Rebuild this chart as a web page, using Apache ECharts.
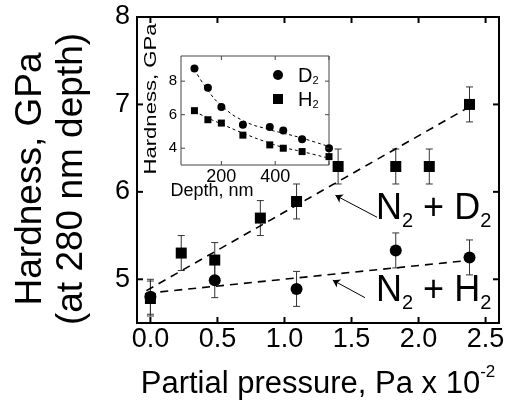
<!DOCTYPE html>
<html>
<head>
<meta charset="utf-8">
<script src="https://cdn.jsdelivr.net/npm/echarts@6/dist/echarts.min.js"></script>
<style>
html, body { margin: 0; padding: 0; background: #fff; }
#main { width: 515px; height: 412px; }
</style>
</head>
<body>
<div id="main"></div>
<script>
// main panel: hardness at 280 nm vs partial pressure
const pressD = [0.0, 0.23, 0.48, 0.82, 1.09, 1.40, 1.83, 2.08, 2.38];
const hardD = [4.78, 5.30, 5.22, 5.70, 5.89, 6.29, 6.29, 6.29, 7.00];
const errD = [0.2, 0.2, 0.2, 0.2, 0.2, 0.2, 0.2, 0.2, 0.2];
const pressH = [0.0, 0.48, 1.09, 1.83, 2.38];
const hardH = [4.80, 4.99, 4.89, 5.33, 5.25];
const errH = [0.2, 0.2, 0.2, 0.2, 0.2];
const fitD = [[-0.03, 4.87], [2.40, 6.99]];
const fitH = [[-0.03, 4.84], [2.40, 5.22]];
const arrowD = [[1.69, 5.71], [1.38, 5.96]];
const arrowH = [[1.60, 4.79], [1.36, 4.99]];
const xTicks = [0, 0.5, 1, 1.5, 2, 2.5];
const yTicks = [5, 6, 7, 8];

// inset: hardness vs depth
const depth = [100, 150, 200, 280, 380, 430, 500, 600];
const insetD = [8.76, 7.60, 6.46, 5.40, 5.26, 5.06, 4.54, 4.00];
const insetH = [6.24, 5.70, 5.50, 4.78, 4.20, 4.00, 3.80, 3.50];
const insetFitD = [[100, 8.7], [150, 7.45], [200, 6.55], [280, 5.65], [380, 5.1], [430, 4.9], [500, 4.6], [600, 4.1]];
const insetFitH = [[100, 6.2], [150, 5.8], [200, 5.45], [280, 4.9], [380, 4.3], [430, 4.05], [500, 3.8], [600, 3.4]];
const depthTicks = [200, 400];
const depthTicksAll = [200, 400, 600];
const insetYTicks = [4, 6, 8];

const FONT = 'Arial, "Liberation Sans", sans-serif';

let chart = echarts.init(document.getElementById('main'));

let errorBar = (params, api) => {
    let x = api.value(0);
    let top = api.coord([x, api.value(2)]);
    let bot = api.coord([x, api.value(1)]);
    let w = 3.5;
    let st = {stroke: '#333', lineWidth: 1};
    return {
        type: 'group',
        children: [
            {type: 'line', shape: {x1: top[0], y1: top[1], x2: bot[0], y2: bot[1]}, style: st},
            {type: 'line', shape: {x1: top[0] - w, y1: top[1], x2: top[0] + w, y2: top[1]}, style: st},
            {type: 'line', shape: {x1: bot[0] - w, y1: bot[1], x2: bot[0] + w, y2: bot[1]}, style: st}
        ]
    };
};

// inward ticks on both opposite frame sides, placed through the axis scale
let tickMarks = (dir, len, width, color) => (params, api) => {
    let cs = params.coordSys;
    let p = api.coord([api.value(0), api.value(1)]);
    let st = {stroke: color, lineWidth: width};
    if (dir === 'x') {
        let b = cs.y + cs.height, t = cs.y;
        return {type: 'group', children: [
            {type: 'line', shape: {x1: p[0], y1: b, x2: p[0], y2: b - len}, style: st},
            {type: 'line', shape: {x1: p[0], y1: t, x2: p[0], y2: t + len}, style: st}
        ]};
    }
    let l = cs.x, r = cs.x + cs.width;
    return {type: 'group', children: [
        {type: 'line', shape: {x1: l, y1: p[1], x2: l + len, y2: p[1]}, style: st},
        {type: 'line', shape: {x1: r, y1: p[1], x2: r - len, y2: p[1]}, style: st}
    ]};
};

let subText = (top, letter) => ({
    type: 'text', left: 376, top: top, z: 30,
    style: {
        text: `{m|N}{s|2}{m| + ${letter}}{s|2}`,
        rich: {
            m: {fontSize: 36, lineHeight: 40, padding: [0, 0, 10, 0], verticalAlign: 'top', fontFamily: FONT, fill: '#000'},
            s: {fontSize: 20, lineHeight: 20, verticalAlign: 'bottom', fontFamily: FONT, fill: '#000'}
        }
    }
});

let solid = {color: '#000', opacity: 1};

let option = {
    animation: false,
    backgroundColor: '#fff',
    textStyle: {fontFamily: FONT},
    grid: [
        {left: 137, right: 16, top: 17, bottom: 89, show: true, borderColor: '#000', borderWidth: 2},
        {left: 181, right: 186, top: 56, bottom: 247, show: true, backgroundColor: '#fff', borderColor: '#444', borderWidth: 1, z: 5}
    ],
    legend: {
        data: ['D2', 'H2'],
        orient: 'vertical',
        left: 268,
        top: 61,
        itemWidth: 10,
        itemHeight: 10,
        itemGap: 4,
        z: 20,
        itemStyle: {opacity: 1},
        formatter: (name) => `{m|${name[0]}}{s|2}`,
        textStyle: {
            color: '#000',
            padding: [0, 0, 0, 10],
            rich: {
                m: {fontSize: 20, lineHeight: 22, verticalAlign: 'bottom', fontFamily: FONT},
                s: {fontSize: 11, lineHeight: 11, verticalAlign: 'bottom', fontFamily: FONT}
            }
        }
    },
    xAxis: [
        {
            gridIndex: 0, type: 'value', min: -0.1, max: 2.6,
            name: '{b|Partial pressure, Pa x 10}{sup|-2}',
            nameLocation: 'middle', nameGap: 41,
            nameTextStyle: {
                color: '#000', fontFamily: FONT,
                rich: {
                    b: {fontSize: 31, lineHeight: 36, verticalAlign: 'bottom', fontFamily: FONT},
                    sup: {fontSize: 17, lineHeight: 17, verticalAlign: 'top', fontFamily: FONT}
                }
            },
            axisLine: {show: false},
            axisTick: {show: false},
            axisLabel: {
                show: true, fontSize: 27, color: '#000', margin: 3, fontFamily: FONT,
                customValues: xTicks,
                formatter: (v) => v.toFixed(1)
            },
            splitLine: {show: false}
        },
        {
            gridIndex: 1, type: 'value', min: 50, max: 600,
            axisLine: {show: false},
            axisTick: {show: false},
            axisLabel: {
                show: true, fontSize: 18, color: '#000', margin: 3, fontFamily: FONT,
                customValues: depthTicks
            },
            splitLine: {show: false}
        }
    ],
    yAxis: [
        {
            gridIndex: 0, type: 'value', min: 4.5, max: 8,
            name: 'Hardness, GPa\n(at 280 nm depth)',
            nameLocation: 'middle', nameGap: 45,
            nameTextStyle: {fontSize: 37, lineHeight: 41, color: '#000', fontFamily: FONT, padding: [0, 18, 0, 0]},
            axisLine: {show: false},
            axisTick: {show: false},
            axisLabel: {
                show: true, fontSize: 27, color: '#000', margin: 7, fontFamily: FONT,
                customValues: yTicks
            },
            splitLine: {show: false}
        },
        {
            gridIndex: 1, type: 'value', min: 3, max: 9.5,
            axisLine: {show: false},
            axisTick: {show: false},
            axisLabel: {
                show: true, fontSize: 15, color: '#000', margin: 4, fontFamily: FONT,
                customValues: insetYTicks
            },
            splitLine: {show: false}
        }
    ],
    graphic: [
        subText(191, 'D'),
        subText(273, 'H'),
        {
            type: 'text', x: 151, y: 99, rotation: Math.PI / 2, scaleX: 1.3, z: 30,
            style: {text: 'Hardness, GPa', fontSize: 17, fontFamily: FONT, fill: '#000', align: 'center', verticalAlign: 'middle'}
        },
        {
            type: 'text', x: 212, y: 191, z: 30,
            style: {text: 'Depth, nm', fontSize: 18, fontFamily: FONT, fill: '#000', align: 'center', verticalAlign: 'middle'}
        }
    ],
    series: [
        {
            name: 'ticksX', type: 'custom', xAxisIndex: 0, yAxisIndex: 0, silent: true, z: 3,
            renderItem: tickMarks('x', 6, 2, '#000'),
            data: xTicks.map((v) => [v, yTicks[0]])
        },
        {
            name: 'ticksY', type: 'custom', xAxisIndex: 0, yAxisIndex: 0, silent: true, z: 3,
            renderItem: tickMarks('y', 6, 2, '#000'),
            data: yTicks.map((v) => [xTicks[0], v])
        },
        {
            name: 'fitD', type: 'line', xAxisIndex: 0, yAxisIndex: 0,
            data: fitD, showSymbol: false, symbol: 'none',
            lineStyle: {color: '#000', width: 1.6, type: [8, 6]},
            markLine: {
                silent: true, symbol: ['none', 'arrow'], symbolSize: 7,
                lineStyle: {color: '#000', width: 1, type: 'solid'},
                label: {show: false},
                data: [[{coord: arrowD[0]}, {coord: arrowD[1]}]]
            }
        },
        {
            name: 'fitH', type: 'line', xAxisIndex: 0, yAxisIndex: 0,
            data: fitH, showSymbol: false, symbol: 'none',
            lineStyle: {color: '#000', width: 1.6, type: [8, 6]},
            markLine: {
                silent: true, symbol: ['none', 'arrow'], symbolSize: 7,
                lineStyle: {color: '#000', width: 1, type: 'solid'},
                label: {show: false},
                data: [[{coord: arrowH[0]}, {coord: arrowH[1]}]]
            }
        },
        {
            name: 'errD', type: 'custom', xAxisIndex: 0, yAxisIndex: 0,
            renderItem: errorBar, encode: {x: 0, y: [1, 2]},
            data: pressD.map((p, i) => [p, hardD[i] - errD[i], hardD[i] + errD[i]])
        },
        {
            name: 'errH', type: 'custom', xAxisIndex: 0, yAxisIndex: 0,
            renderItem: errorBar, encode: {x: 0, y: [1, 2]},
            data: pressH.map((p, i) => [p, hardH[i] - errH[i], hardH[i] + errH[i]])
        },
        {
            name: 'N2 + H2', type: 'scatter', xAxisIndex: 0, yAxisIndex: 0,
            symbol: 'circle', symbolSize: 12, itemStyle: solid,
            data: pressH.map((p, i) => [p, hardH[i]]), z: 4
        },
        {
            name: 'N2 + D2', type: 'scatter', xAxisIndex: 0, yAxisIndex: 0,
            symbol: 'rect', symbolSize: 11, itemStyle: solid,
            data: pressD.map((p, i) => [p, hardD[i]]), z: 4
        },
        {
            name: 'insetTicksX', type: 'custom', xAxisIndex: 1, yAxisIndex: 1, silent: true, z: 8,
            renderItem: tickMarks('x', 4, 1, '#444'),
            data: depthTicksAll.map((v) => [v, insetYTicks[0]])
        },
        {
            name: 'insetTicksY', type: 'custom', xAxisIndex: 1, yAxisIndex: 1, silent: true, z: 8,
            renderItem: tickMarks('y', 4, 1, '#444'),
            data: insetYTicks.map((v) => [depthTicks[0], v])
        },
        {
            name: 'insetFitD', type: 'line', xAxisIndex: 1, yAxisIndex: 1,
            data: insetFitD, smooth: true, showSymbol: false, symbol: 'none', z: 6,
            lineStyle: {color: '#000', width: 1, type: [3, 3]}
        },
        {
            name: 'insetFitH', type: 'line', xAxisIndex: 1, yAxisIndex: 1,
            data: insetFitH, smooth: true, showSymbol: false, symbol: 'none', z: 6,
            lineStyle: {color: '#000', width: 1, type: [3, 3]}
        },
        {
            name: 'D2', type: 'scatter', xAxisIndex: 1, yAxisIndex: 1,
            symbol: 'circle', symbolSize: 8, itemStyle: solid,
            data: depth.map((d, i) => [d, insetD[i]]), z: 7
        },
        {
            name: 'H2', type: 'scatter', xAxisIndex: 1, yAxisIndex: 1,
            symbol: 'rect', symbolSize: 7, itemStyle: solid,
            data: depth.map((d, i) => [d, insetH[i]]), z: 7
        }
    ]
};

chart.setOption(option);
</script>
</body>
</html>
